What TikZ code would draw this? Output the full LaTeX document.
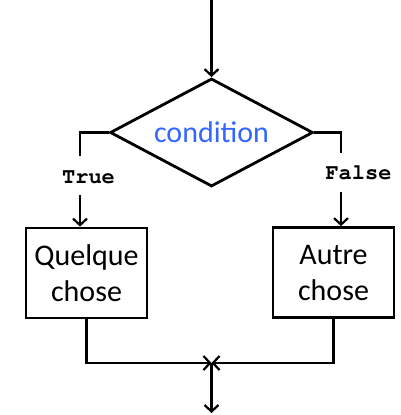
\documentclass[tikz,border=0pt]{standalone}
\usepackage{fontspec}
\setmainfont{Carlito}
\usetikzlibrary{shapes.geometric,arrows.meta}
\definecolor{condblue}{RGB}{51,102,255}
\newcommand{\courierbold}{\fontencoding{T1}\fontfamily{pcr}\fontseries{b}\selectfont}
\tikzset{
  flow/.style={line width=2.8pt, line cap=butt, line join=miter},
  arr/.style={flow, -{Straight Barb[length=6.5pt,width=14pt,line width=2.2pt]}},
  decision/.style={draw, line width=2.8pt, shape=diamond, inner sep=0pt, aspect=1.88,
    minimum width=203pt, minimum height=108pt, text=condblue,
    font=\fontsize{30}{34}\selectfont},
  procbox/.style={draw, line width=2.8pt, inner sep=0pt, minimum width=121pt, minimum height=90pt,
    align=center, font=\fontsize{30}{36}\selectfont},
  branchlabel/.style={anchor=base, inner sep=0pt, font=\courierbold\fontsize{22}{24}\selectfont}
}
\begin{document}
\begin{tikzpicture}[x=1pt,y=-1pt]
\useasboundingbox (0,0) rectangle (401,415);
\node[decision] (cond) at (211.5,132.5) {condition};
\node[procbox] (box1) at (86.5,273) {Quelque\\chose};
\node[procbox] (box2) at (333.5,272.5) {Autre\\chose};
\coordinate (top) at (211.5,0);
\coordinate (tlA) at (80,156);
\coordinate (tlB) at (80,195);
\coordinate (trA) at (341,153);
\coordinate (trB) at (341,192);
\coordinate (merge) at (211.5,363);
\coordinate (bot) at (211.5,413);
\node[branchlabel] (ltrue) at (88.5,183) {True};
\node[branchlabel] (lfalse) at (358.5,179) {False};
\draw[arr] (top) -- (cond.north);
\draw[flow] (cond.west) -| (tlA);
\draw[arr] (tlB) -- (tlB |- box1.north);
\draw[flow] (cond.east) -| (trA);
\draw[arr] (trB) -- (trB |- box2.north);
\draw[arr] (box1.south) |- (merge);
\draw[arr] (box2.south) |- (merge);
\draw[arr] (merge) -- (bot);
\end{tikzpicture}
\end{document}
